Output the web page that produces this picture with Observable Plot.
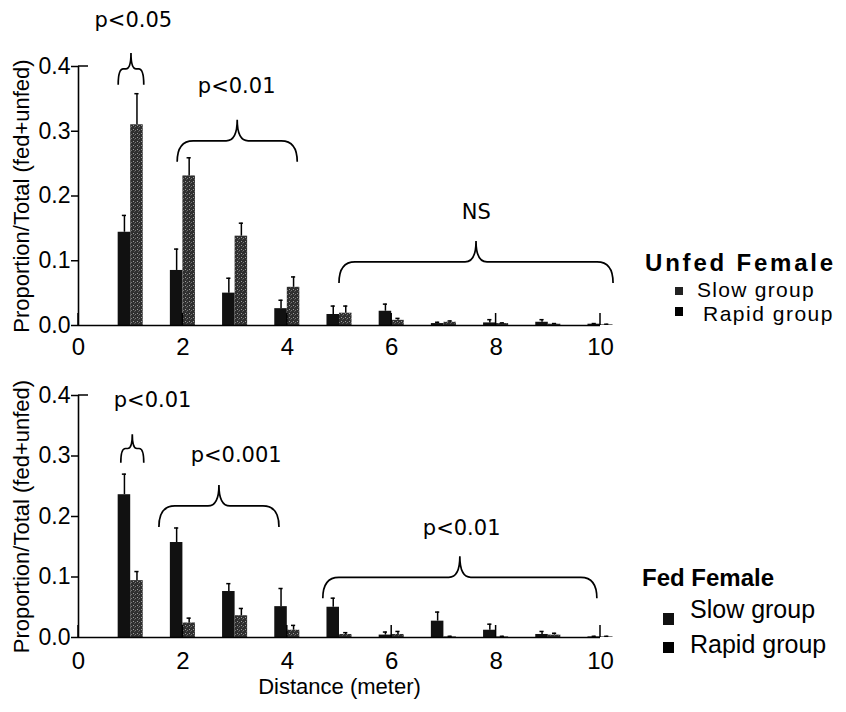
<!DOCTYPE html>
<html>
<head>
<meta charset="utf-8">
<script src="https://cdn.jsdelivr.net/npm/d3@7"></script>
<script src="https://cdn.jsdelivr.net/npm/@observablehq/plot@0.6"></script>
<style>
  body { margin: 0; background: #fff; }
  #wrap { position: relative; width: 846px; height: 712px; background: #fff; font-family: "Liberation Sans", Arial, sans-serif; color: #000; }
  .panel { position: absolute; left: 0; }
  .lg { position: absolute; white-space: pre; line-height: 20px; }
  .sq { position: absolute; background: #000; }
</style>
</head>
<body>
<svg width="0" height="0" style="position:absolute">
  <defs>
    <pattern id="stip" width="4" height="4" patternUnits="userSpaceOnUse">
      <rect width="4" height="4" fill="#2f2f2f"></rect>
      <rect x="1" y="1" width="1" height="1" fill="#9a9a9a"></rect>
      <rect x="3" y="2" width="1" height="1" fill="#777"></rect>
      <rect x="2" y="3" width="1" height="1" fill="#555"></rect>
    </pattern>
  </defs>
</svg>
<div id="wrap">
  <div id="top" class="panel" style="top:0"></div>
  <div id="bot" class="panel" style="top:360px"></div>

  <div class="lg" style="left:645px;top:253px;font-size:24px;font-weight:bold;letter-spacing:2.8px;">Unfed Female</div>
  <div class="sq" style="left:675px;top:287px;width:8px;height:8px;background:#222"></div>
  <div class="lg" style="left:697px;top:280px;font-size:21px;letter-spacing:1.3px;">Slow group</div>
  <div class="sq" style="left:675px;top:307px;width:8px;height:9px"></div>
  <div class="lg" style="left:703px;top:304px;font-size:21px;letter-spacing:1.5px;">Rapid group</div>

  <div class="lg" style="left:642px;top:568px;font-size:24px;font-weight:bold;">Fed Female</div>
  <div class="sq" style="left:663px;top:613px;width:11px;height:12px;background:#111"></div>
  <div class="lg" style="left:690px;top:599px;font-size:25px;">Slow group</div>
  <div class="sq" style="left:663px;top:642px;width:11px;height:11px"></div>
  <div class="lg" style="left:690px;top:634px;font-size:25px;">Rapid group</div>
</div>
<script>
// ---- data ----
const distance = [1, 2, 3, 4, 5, 6, 7, 8, 9, 10];

const unfedSlow      = [0.144, 0.085, 0.050, 0.026, 0.017, 0.022, 0.003, 0.004, 0.005, 0.002];
const unfedSlowErr   = [0.026, 0.033, 0.023, 0.013, 0.013, 0.011, 0.002, 0.005, 0.004, 0.001];
const unfedRapid     = [0.310, 0.231, 0.138, 0.059, 0.019, 0.008, 0.005, 0.003, 0.002, 0.001];
const unfedRapidErr  = [0.048, 0.028, 0.020, 0.016, 0.011, 0.003, 0.002, 0.001, 0.001, 0.001];

const fedSlow        = [0.236, 0.157, 0.076, 0.051, 0.050, 0.004, 0.027, 0.012, 0.005, 0.001];
const fedSlowErr     = [0.034, 0.024, 0.013, 0.030, 0.015, 0.005, 0.015, 0.010, 0.005, 0.001];
const fedRapid       = [0.094, 0.024, 0.036, 0.012, 0.005, 0.005, 0.001, 0.001, 0.004, 0.001];
const fedRapidErr    = [0.015, 0.008, 0.012, 0.008, 0.003, 0.005, 0.001, 0.001, 0.003, 0.001];

const xTicks = [0, 2, 4, 6, 8, 10];
const yTicks = [0, 0.1, 0.2, 0.3, 0.4];
const yLabel = "Proportion/Total (fed+unfed)";
const xLabel = "Distance (meter)";

// significance braces (distance units) and their labels
const unfedBraceX1 = [0.77, 1.90, 5.00];
const unfedBraceX2 = [1.26, 4.20, 10.25];
const unfedBraceY  = [0.371, 0.252, 0.065];
const unfedLabels  = ["p<0.05", "p<0.01", "NS"];
const unfedLabelX  = [1.05, 3.03, 7.62];
const unfedLabelY  = [0.471, 0.369, 0.175];

const fedBraceX1 = [0.82, 1.55, 4.69];
const fedBraceX2 = [1.26, 3.85, 9.94];
const fedBraceY  = [0.288, 0.182, 0.064];
const fedLabels  = ["p<0.01", "p<0.001", "p<0.01"];
const fedLabelX  = [1.42, 3.02, 7.34];
const fedLabelY  = [0.392, 0.301, 0.180];

// ---- drawing ----
const NS = "http://www.w3.org/2000/svg";
const BW = 0.24; // bar width in distance units

function braceMark(x1s, x2s, ys) {
  return (index, scales) => {
    const g = document.createElementNS(NS, "g");
    for (let i = 0; i < x1s.length; i++) {
      const xl = scales.x(x1s[i]), xr = scales.x(x2s[i]), ye = scales.y(ys[i]);
      const w = xr - xl;
      const h = Math.min(21, w * 0.62);
      const ym = ye - h, yp = ym - h;
      const r = Math.min(16, w * 0.2);
      const c = Math.min(11, w * 0.2);
      const cx = (xl + xr) / 2;
      const p = document.createElementNS(NS, "path");
      p.setAttribute("d",
        `M${xl},${ye} Q${xl},${ym} ${xl + r},${ym} L${cx - c},${ym} Q${cx},${ym} ${cx},${yp} ` +
        `Q${cx},${ym} ${cx + c},${ym} L${xr - r},${ym} Q${xr},${ym} ${xr},${ye}`);
      p.setAttribute("fill", "none");
      p.setAttribute("stroke", "#000");
      p.setAttribute("stroke-width", "1.7");
      g.appendChild(p);
    }
    return g;
  };
}

function innerTicks(ticks, len) {
  return (index, scales) => {
    const g = document.createElementNS(NS, "g");
    const y0 = scales.y(0);
    for (const t of ticks) {
      const l = document.createElementNS(NS, "line");
      l.setAttribute("x1", scales.x(t)); l.setAttribute("x2", scales.x(t));
      l.setAttribute("y1", y0); l.setAttribute("y2", y0 - len);
      l.setAttribute("stroke", "#000"); l.setAttribute("stroke-width", "1.5");
      g.appendChild(l);
    }
    // short stub at the top of the y axis
    const s = document.createElementNS(NS, "line");
    s.setAttribute("x1", scales.x(0)); s.setAttribute("x2", scales.x(0) + 10);
    s.setAttribute("y1", scales.y(0.4)); s.setAttribute("y2", scales.y(0.4));
    s.setAttribute("stroke", "#000"); s.setAttribute("stroke-width", "1.5");
    g.appendChild(s);
    return g;
  };
}

function panel(o) {
  const rows = distance.map((d, i) => ({
    d, slow: o.slow[i], slowErr: o.slowErr[i], rapid: o.rapid[i], rapidErr: o.rapidErr[i]
  }));
  const labels = o.labels.map((t, i) => ({t, x: o.labelX[i], y: o.labelY[i]}));
  const marks = [
    Plot.rectY(rows, {x1: r => r.d - BW, x2: r => r.d, y1: 0, y2: "slow", fill: "#111"}),
    Plot.rectY(rows, {x1: r => r.d, x2: r => r.d + BW, y1: 0, y2: "rapid", fill: "url(#stip)"}),
    Plot.ruleX(rows, {x: r => r.d - BW / 2, y1: "slow", y2: r => r.slow + r.slowErr, stroke: "#000", strokeWidth: 1.5}),
    Plot.ruleY(rows, {y: r => r.slow + r.slowErr, x1: r => r.d - BW / 2 - 0.04, x2: r => r.d - BW / 2 + 0.04, stroke: "#000", strokeWidth: 1.5}),
    Plot.ruleX(rows, {x: r => r.d + BW / 2, y1: "rapid", y2: r => r.rapid + r.rapidErr, stroke: "#000", strokeWidth: 1.5}),
    Plot.ruleY(rows, {y: r => r.rapid + r.rapidErr, x1: r => r.d + BW / 2 - 0.04, x2: r => r.d + BW / 2 + 0.04, stroke: "#000", strokeWidth: 1.5}),
    Plot.ruleX([0], {y1: 0, y2: 0.4, stroke: "#000", strokeWidth: 1.6}),
    Plot.ruleY([0], {x1: 0, x2: 10, stroke: "#000", strokeWidth: 1.6}),
    innerTicks(xTicks, 12),
    Plot.axisY({ticks: yTicks, tickFormat: d3.format(".1f"), tickSize: 7, tickPadding: 1, label: null, fontSize: 23, stroke: "#000", strokeWidth: 1.5}),
    Plot.axisX({ticks: xTicks, tickSize: 0, tickPadding: o.xPad, label: null, fontSize: 24}),
    Plot.text([yLabel], {frameAnchor: "left", textAnchor: "middle", rotate: -90, dx: -57, fontSize: 22, fill: "#000"}),
    braceMark(o.bx1, o.bx2, o.by),
    Plot.text(labels, {x: "x", y: "y", text: "t", fontSize: 21, fontFamily: "DejaVu Sans", fill: "#000"})
  ];
  if (o.xLabel) marks.push(Plot.text([o.xLabel], {frameAnchor: "bottom", dy: 56, fontSize: 22, fill: "#000"}));
  return Plot.plot({
    width: 640, height: o.height,
    marginLeft: 78, marginRight: 40, marginTop: o.mt, marginBottom: o.mb,
    x: {domain: [0, 10]},
    y: {domain: [0, 0.4]},
    style: {fontFamily: "'Liberation Sans', Arial, sans-serif", color: "#000", background: "transparent", overflow: "visible"},
    marks
  });
}

document.getElementById("top").appendChild(panel({
  height: 360, mt: 66, mb: 35, xPad: 12,
  slow: unfedSlow, slowErr: unfedSlowErr, rapid: unfedRapid, rapidErr: unfedRapidErr,
  bx1: unfedBraceX1, bx2: unfedBraceX2, by: unfedBraceY,
  labels: unfedLabels, labelX: unfedLabelX, labelY: unfedLabelY
}));
document.getElementById("bot").appendChild(panel({
  height: 352, mt: 35, mb: 75, xPad: 14,
  slow: fedSlow, slowErr: fedSlowErr, rapid: fedRapid, rapidErr: fedRapidErr,
  bx1: fedBraceX1, bx2: fedBraceX2, by: fedBraceY,
  labels: fedLabels, labelX: fedLabelX, labelY: fedLabelY,
  xLabel: xLabel
}));
</script>
</body>
</html>
